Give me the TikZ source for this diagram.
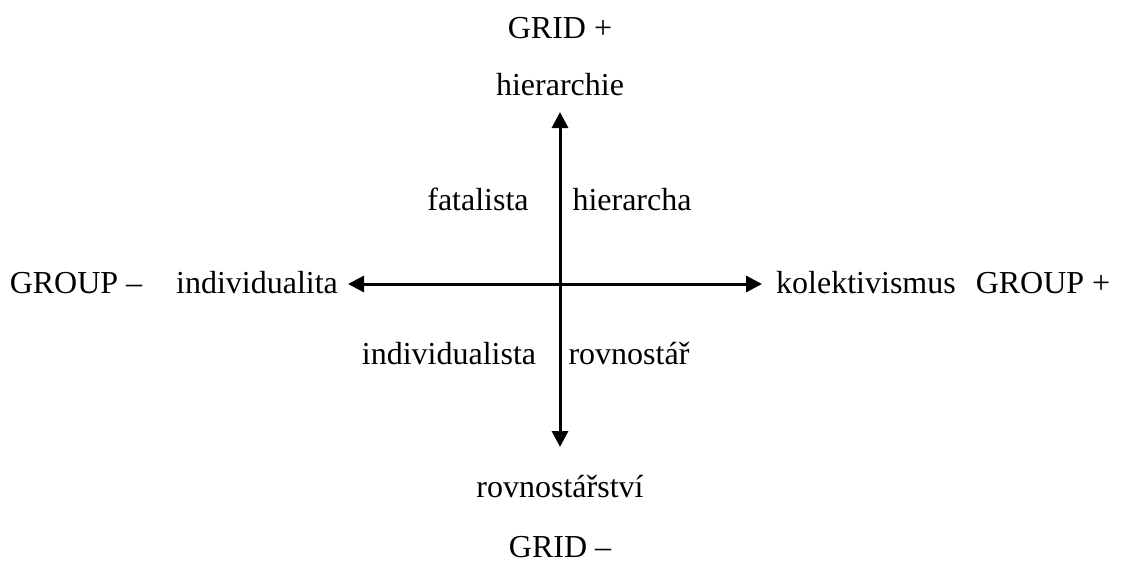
\documentclass[tikz,border=0pt]{standalone}
\usepackage{fontspec}
\setmainfont{Liberation Serif}
\usetikzlibrary{arrows.meta}
\begin{document}
\begin{tikzpicture}[x=1pt,y=-1pt,
  lbl/.style={inner sep=0pt,anchor=base,font=\fontsize{32}{38}\selectfont},
  axis/.style={line width=3pt,{Triangle[length=16pt,width=16pt]}-{Triangle[length=16pt,width=16pt]}}]
  \useasboundingbox (0,0) rectangle (1121,563);
  % axis end points
  \coordinate (top) at (560,112);
  \coordinate (bottom) at (560,447);
  \coordinate (left) at (348,284);
  \coordinate (right) at (762,284);
  \draw[axis] (top) -- (bottom);
  \draw[axis] (left) -- (right);
  % axis labels
  \node[lbl] (gridp) at (560,38) {GRID +};
  \node[lbl] (hier) at (560,95) {hierarchie};
  \node[lbl] (rovst) at (560,497) {rovnostářství};
  \node[lbl] (gridm) at (560,557) {GRID –};
  \node[lbl] (groupm) at (76,293) {GROUP –};
  \node[lbl] (indiv) at (257,293) {individualita};
  \node[lbl] (kolek) at (866,293) {kolektivismus};
  \node[lbl] (groupp) at (1043,293) {GROUP +};
  % quadrant labels
  \node[lbl] (fatal) at (478,210) {fatalista};
  \node[lbl] (hierarcha) at (632,210) {hierarcha};
  \node[lbl] (indista) at (449,364) {individualista};
  \node[lbl] (rovn) at (629,364) {rovnostář};
\end{tikzpicture}
\end{document}
